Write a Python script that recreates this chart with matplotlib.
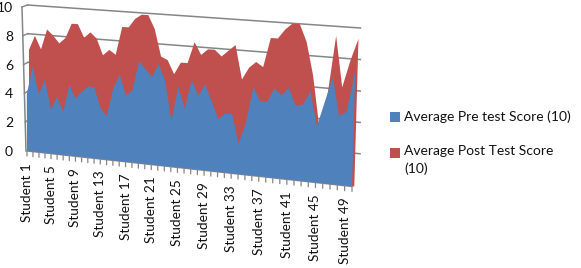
import numpy as np
import matplotlib
matplotlib.use("Agg")
import matplotlib.pyplot as plt
from matplotlib.patches import Rectangle
from matplotlib.transforms import Affine2D, Transform

BLUE = "#4F81BD"
RED = "#C0504D"
GRID = "#868686"
W, H = 581, 268

students = list(range(1, 51))
tick_labels = [f"Student {i}" for i in range(1, 50, 4)]
y_ticks = [0, 2, 4, 6, 8, 10]
legend_labels = ["Average Pre test Score (10)", "Average Post Test Score\n(10)"]

pre_score = [4.0, 6.0, 4.1, 5.1, 3.1, 4.0, 3.0, 4.9, 4.0, 4.5,
             4.9, 4.9, 3.5, 3.0, 4.9, 5.9, 4.5, 4.9, 6.9, 6.4,
             5.9, 6.8, 5.7, 3.1, 5.4, 4.0, 5.9, 4.9, 5.7, 4.6,
             3.5, 3.9, 3.9, 2.0, 3.4, 5.8, 4.9, 4.9, 5.8, 5.4,
             5.9, 4.8, 4.9, 5.8, 3.6, 5.2, 6.8, 4.4, 4.7, 7.3]
post_score = [7.1, 8.1, 7.2, 8.6, 8.2, 7.7, 8.1, 9.1, 9.1, 8.2,
              8.6, 8.2, 7.1, 7.5, 7.2, 9.1, 9.1, 9.7, 10.0, 10.0,
              9.1, 7.3, 7.1, 6.2, 7.0, 7.0, 8.4, 7.6, 8.0, 8.0,
              7.6, 8.0, 8.4, 6.2, 7.0, 7.4, 7.1, 9.0, 9.0, 9.6,
              10.0, 10.0, 8.9, 6.8, 3.6, 5.5, 9.4, 6.2, 7.9, 9.3]


class PlaneTransform(Transform):
    """Perspective mapping of (student, score) onto a plane given by its corners."""
    input_dims = 2
    output_dims = 2

    def __init__(self, corners):
        super().__init__()
        src = [(1, 0), (50, 0), (1, 10), (50, 10)]
        rows, rhs = [], []
        for (x, y), (u, v) in zip(src, corners):
            rows.append([x, y, 1, 0, 0, 0, -u * x, -u * y])
            rows.append([0, 0, 0, x, y, 1, -v * x, -v * y])
            rhs += [u, v]
        self.m = np.append(np.linalg.solve(rows, rhs), 1).reshape(3, 3)

    def transform_non_affine(self, values):
        pts = np.column_stack([values, np.ones(len(values))]) @ self.m.T
        return pts[:, :2] / pts[:, 2:]


fig = plt.figure(figsize=(W / 100, H / 100), dpi=100)
plt.rcParams["font.family"] = ["Lato", "DejaVu Sans"]
ax = fig.add_axes([0, 0, 1, 1])
ax.set_xlim(0, W)
ax.set_ylim(H, 0)
ax.axis("off")

front = PlaneTransform([(27, 151), (352, 186.5), (26.5, 8), (356.5, 27.5)]) + ax.transData
behind = PlaneTransform([(27, 151), (352, 186.5), (26.5, 8), (356.5, 27.5)]) \
    + Affine2D().translate(2.3, 0) + ax.transData
wall = PlaneTransform([(29, 148), (360, 185), (27.5, 5), (360.5, 28)]) + ax.transData

# back wall gridlines and the left wall edge
for v in y_ticks[1:]:
    ax.plot([1, 50], [v, v], color=GRID, lw=1.1, transform=wall, zorder=1)
    ax.plot([22 + (10 - v) * 0.4, 27.5 + (10 - v) * 0.15], [7 + (10 - v) * 14.4, 5 + (10 - v) * 14.3],
            color=GRID, lw=1.0, zorder=1)
ax.plot([22, 26], [7, 151], color=GRID, lw=1.1, zorder=1)

xs = np.array(students)
ax.fill(np.r_[xs, 50, 1], np.r_[post_score, 0, 0], color=RED, lw=0, transform=behind, zorder=2)
ax.fill(np.r_[xs, 50, 1], np.r_[pre_score, 0, 0], color=BLUE, lw=0, transform=front, zorder=3)

# floor edge and tick marks
ax.plot([1, 50], [0, 0], color=GRID, lw=1.0, transform=front, zorder=2)
for i in students:
    ax.annotate("", xy=(i, 0), xycoords=front, xytext=(0, -3.6), textcoords="offset points",
                arrowprops=dict(arrowstyle="-", color=GRID, lw=0.9, shrinkA=0, shrinkB=0))
for i, label in zip(students[::4], tick_labels):
    ax.annotate(label, xy=(i, 0), xycoords=front, xytext=(0, -8.5), textcoords="offset points",
                rotation=90, ha="center", va="top", fontsize=9.8, color="#111111")

for v in y_ticks:
    ax.text(13, 152 - v * 14.4, str(v), ha="right", va="center", fontsize=10, color="#111111")

# legend
for (top, label, text_y) in zip([112, 148], legend_labels, [117, 152]):
    color = BLUE if top == 112 else RED
    ax.add_patch(Rectangle((390, top), 10, 10, color=color, lw=0))
    ax.text(404, text_y, label, ha="left", va="top" if "\n" in label else "center",
            fontsize=10, color="#111111", linespacing=1.35) if "\n" not in label else \
        ax.text(404, text_y - 7, label, ha="left", va="top", fontsize=10, color="#111111", linespacing=1.5)

fig.savefig("out.png", dpi=100)
